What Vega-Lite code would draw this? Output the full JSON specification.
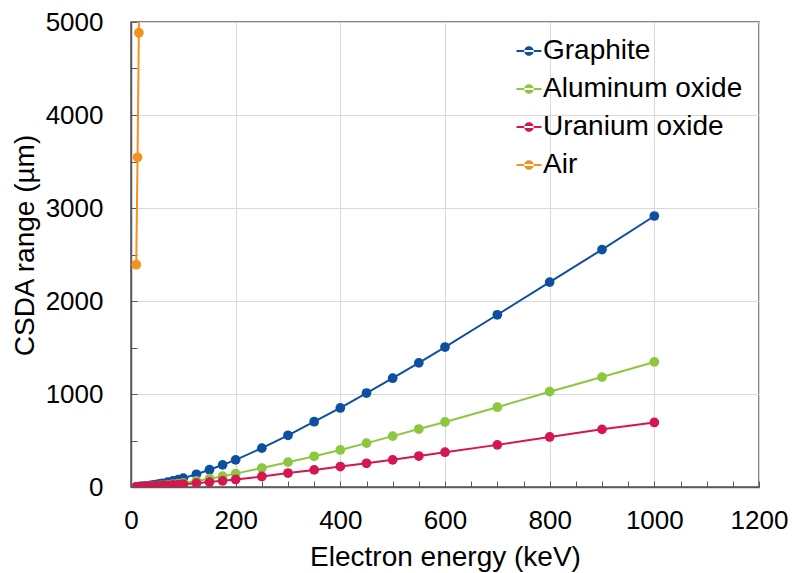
{
  "$schema": "https://vega.github.io/schema/vega-lite/v6.json",
  "width": 628,
  "height": 465,
  "autosize": "none",
  "padding": {"left": 131, "top": 22, "right": 33, "bottom": 86},
  "background": "white",
  "config": {
    "font": "Liberation Sans",
    "view": {"stroke": "#595959", "strokeWidth": 1.5}
  },
  "data": {"values": [
    {"m": "Graphite", "e": 10, "r": 1.7}, {"m": "Graphite", "e": 12.5, "r": 2.5}, {"m": "Graphite", "e": 15, "r": 3.4}, {"m": "Graphite", "e": 17.5, "r": 4.5},
    {"m": "Graphite", "e": 20, "r": 5.7}, {"m": "Graphite", "e": 25, "r": 8.5}, {"m": "Graphite", "e": 30, "r": 11.7}, {"m": "Graphite", "e": 35, "r": 15.3},
    {"m": "Graphite", "e": 40, "r": 19.5}, {"m": "Graphite", "e": 45, "r": 24}, {"m": "Graphite", "e": 50, "r": 28.8}, {"m": "Graphite", "e": 55, "r": 34},
    {"m": "Graphite", "e": 60, "r": 39.6}, {"m": "Graphite", "e": 70, "r": 51.5}, {"m": "Graphite", "e": 80, "r": 64.7}, {"m": "Graphite", "e": 90, "r": 78.7},
    {"m": "Graphite", "e": 100, "r": 95.4}, {"m": "Graphite", "e": 125, "r": 137}, {"m": "Graphite", "e": 150, "r": 186}, {"m": "Graphite", "e": 175, "r": 238},
    {"m": "Graphite", "e": 200, "r": 292}, {"m": "Graphite", "e": 250, "r": 418}, {"m": "Graphite", "e": 300, "r": 556}, {"m": "Graphite", "e": 350, "r": 702},
    {"m": "Graphite", "e": 400, "r": 850}, {"m": "Graphite", "e": 450, "r": 1010}, {"m": "Graphite", "e": 500, "r": 1170}, {"m": "Graphite", "e": 550, "r": 1335},
    {"m": "Graphite", "e": 600, "r": 1505}, {"m": "Graphite", "e": 700, "r": 1852}, {"m": "Graphite", "e": 800, "r": 2203}, {"m": "Graphite", "e": 900, "r": 2553},
    {"m": "Graphite", "e": 1000, "r": 2914},
    {"m": "Aluminum oxide", "e": 10, "r": 0.85}, {"m": "Aluminum oxide", "e": 12.5, "r": 1.25}, {"m": "Aluminum oxide", "e": 15, "r": 1.7}, {"m": "Aluminum oxide", "e": 17.5, "r": 2.2},
    {"m": "Aluminum oxide", "e": 20, "r": 2.8}, {"m": "Aluminum oxide", "e": 25, "r": 4.1}, {"m": "Aluminum oxide", "e": 30, "r": 5.6}, {"m": "Aluminum oxide", "e": 35, "r": 7.3},
    {"m": "Aluminum oxide", "e": 40, "r": 9.2}, {"m": "Aluminum oxide", "e": 45, "r": 11.3}, {"m": "Aluminum oxide", "e": 50, "r": 13.6}, {"m": "Aluminum oxide", "e": 55, "r": 16},
    {"m": "Aluminum oxide", "e": 60, "r": 18.6}, {"m": "Aluminum oxide", "e": 70, "r": 24.2}, {"m": "Aluminum oxide", "e": 80, "r": 30.4}, {"m": "Aluminum oxide", "e": 90, "r": 37},
    {"m": "Aluminum oxide", "e": 100, "r": 44.6}, {"m": "Aluminum oxide", "e": 125, "r": 65}, {"m": "Aluminum oxide", "e": 150, "r": 89}, {"m": "Aluminum oxide", "e": 175, "r": 116},
    {"m": "Aluminum oxide", "e": 200, "r": 144}, {"m": "Aluminum oxide", "e": 250, "r": 204}, {"m": "Aluminum oxide", "e": 300, "r": 267}, {"m": "Aluminum oxide", "e": 350, "r": 330},
    {"m": "Aluminum oxide", "e": 400, "r": 398}, {"m": "Aluminum oxide", "e": 450, "r": 472}, {"m": "Aluminum oxide", "e": 500, "r": 547}, {"m": "Aluminum oxide", "e": 550, "r": 623},
    {"m": "Aluminum oxide", "e": 600, "r": 699}, {"m": "Aluminum oxide", "e": 700, "r": 858}, {"m": "Aluminum oxide", "e": 800, "r": 1025}, {"m": "Aluminum oxide", "e": 900, "r": 1182},
    {"m": "Aluminum oxide", "e": 1000, "r": 1345},
    {"m": "Uranium oxide", "e": 10, "r": 1.1}, {"m": "Uranium oxide", "e": 12.5, "r": 1.5}, {"m": "Uranium oxide", "e": 15, "r": 2.0}, {"m": "Uranium oxide", "e": 17.5, "r": 2.5},
    {"m": "Uranium oxide", "e": 20, "r": 3.0}, {"m": "Uranium oxide", "e": 25, "r": 4.2}, {"m": "Uranium oxide", "e": 30, "r": 5.5}, {"m": "Uranium oxide", "e": 35, "r": 6.8},
    {"m": "Uranium oxide", "e": 40, "r": 8.2}, {"m": "Uranium oxide", "e": 45, "r": 9.7}, {"m": "Uranium oxide", "e": 50, "r": 11.3}, {"m": "Uranium oxide", "e": 55, "r": 13},
    {"m": "Uranium oxide", "e": 60, "r": 14.5}, {"m": "Uranium oxide", "e": 70, "r": 18}, {"m": "Uranium oxide", "e": 80, "r": 22}, {"m": "Uranium oxide", "e": 90, "r": 26},
    {"m": "Uranium oxide", "e": 100, "r": 30}, {"m": "Uranium oxide", "e": 125, "r": 41}, {"m": "Uranium oxide", "e": 150, "r": 53}, {"m": "Uranium oxide", "e": 175, "r": 66},
    {"m": "Uranium oxide", "e": 200, "r": 81}, {"m": "Uranium oxide", "e": 250, "r": 113}, {"m": "Uranium oxide", "e": 300, "r": 150}, {"m": "Uranium oxide", "e": 350, "r": 184},
    {"m": "Uranium oxide", "e": 400, "r": 220}, {"m": "Uranium oxide", "e": 450, "r": 255}, {"m": "Uranium oxide", "e": 500, "r": 292}, {"m": "Uranium oxide", "e": 550, "r": 333},
    {"m": "Uranium oxide", "e": 600, "r": 374}, {"m": "Uranium oxide", "e": 700, "r": 453}, {"m": "Uranium oxide", "e": 800, "r": 538}, {"m": "Uranium oxide", "e": 900, "r": 620},
    {"m": "Uranium oxide", "e": 1000, "r": 694},
    {"m": "Air", "e": 10, "r": 2390}, {"m": "Air", "e": 12.5, "r": 3545}, {"m": "Air", "e": 15, "r": 4885}, {"m": "Air", "e": 17.5, "r": 6400}
  ]},
  "encoding": {
    "x": {
      "field": "e", "type": "quantitative",
      "scale": {"domain": [0, 1200], "nice": false, "zero": true},
      "axis": {
        "title": "Electron energy (keV)",
        "values": [0,50,100,150,200,250,300,350,400,450,500,550,600,650,700,750,800,850,900,950,1000,1050,1100,1150,1200],
        "format": "d",
        "labelExpr": "datum.value % 200 === 0 ? datum.label : ''",
        "labelOverlap": false,
        "labelFlush": false,
        "grid": true,
        "gridColor": "#d9d9d9",
        "gridWidth": 1,
        "gridOpacity": {"condition": {"test": "datum.value % 200 === 0 && datum.value > 0", "value": 1}, "value": 0},
        "tickSize": -6,
        "tickColor": "#595959",
        "tickWidth": 1,
        "domainColor": "#595959",
        "domainWidth": 1.5,
        "labelFontSize": 26,
        "labelColor": "#000000",
        "labelBaseline": "alphabetic",
        "labelPadding": 47,
        "titleFontSize": 28,
        "titleFontWeight": "normal",
        "titleColor": "#000000",
        "titleBaseline": "alphabetic",
        "titleX": 314,
        "titleY": 78.5
      }
    },
    "y": {
      "field": "r", "type": "quantitative",
      "scale": {"domain": [0, 5000], "nice": false},
      "axis": {
        "title": "CSDA range (µm)",
        "values": [0,500,1000,1500,2000,2500,3000,3500,4000,4500,5000],
        "labelExpr": "datum.value % 1000 === 0 ? datum.label : ''",
        "format": "d",
        "labelOverlap": false,
        "labelFlush": false,
        "grid": true,
        "gridColor": "#d9d9d9",
        "gridWidth": 1,
        "gridOpacity": {"condition": {"test": "datum.value % 1000 === 0 && datum.value > 0", "value": 1}, "value": 0},
        "tickSize": -6,
        "tickColor": "#595959",
        "tickWidth": 1,
        "domainColor": "#595959",
        "domainWidth": 1.5,
        "labelFontSize": 26,
        "labelColor": "#000000",
        "labelPadding": 34,
        "titleFontSize": 28,
        "titleFontWeight": "normal",
        "titleColor": "#000000",
        "titleBaseline": "alphabetic",
        "titleAngle": -90,
        "titleX": -98,
        "titleY": 223
      }
    },
    "color": {
      "field": "m", "type": "nominal",
      "scale": {
        "domain": ["Graphite", "Aluminum oxide", "Uranium oxide", "Air"],
        "range": ["#0F4FA2", "#8DC63F", "#D4174E", "#F7901E"]
      },
      "legend": {
        "orient": "none",
        "legendX": 384,
        "legendY": 15,
        "title": null,
        "padding": 0,
        "symbolType": "M-1,-0.08L1,-0.08L1,0.08L-1,0.08Z M-0.38,0A0.38,0.38 0 1,0 0.38,0A0.38,0.38 0 1,0 -0.38,0Z",
        "symbolSize": 625,
        "symbolStrokeWidth": 0,
        "symbolOpacity": 1,
        "labelFontSize": 28,
        "labelColor": "#000000",
        "labelOffset": 0,
        "rowPadding": 10,
        "labelLimit": 400,
        "encode": {"symbols": {"update": {"fill": {"scale": "color", "field": "value"}, "fillOpacity": {"value": 1}, "opacity": {"value": 1}}}}
      }
    }
  },
  "layer": [
    {"mark": {"type": "line", "strokeWidth": 2, "clip": true}},
    {"mark": {"type": "point", "filled": true, "size": 95, "opacity": 1, "clip": true}}
  ]
}
